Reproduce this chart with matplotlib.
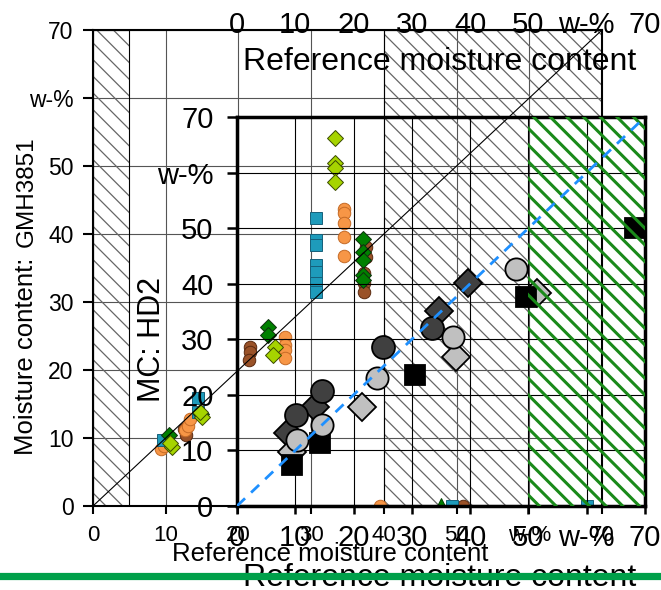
import numpy as np
import matplotlib
matplotlib.use("Agg")
import matplotlib.pyplot as plt
import matplotlib.transforms as mtransforms
from matplotlib.patches import Rectangle
from matplotlib.lines import Line2D

plt.rcParams['font.family'] = ['Liberation Sans', 'DejaVu Sans']

# ticks shared by both panels
ticks = [0, 10, 20, 30, 40, 50, 60, 70]
tick_labels = ['0', '10', '20', '30', '40', '50', 'w-%', '70']

# GMH3851 vs reference (outer panel)
orange_x = [9.3, 9.8, 12.6, 13.0, 13.3, 26.4, 26.4, 26.4, 26.4, 34.5, 34.5, 34.5, 34.5, 34.5, 39.5]
orange_y = [8.4, 8.8, 11.2, 11.8, 12.8, 24.9, 23.7, 22.9, 21.8, 43.7, 43.1, 41.6, 39.6, 36.8, 0]
brown_x = [12.5, 12.8, 21.6, 21.6, 21.5, 37.6, 37.6, 37.3, 37.3, 37.3, 50.9]
brown_y = [11.3, 10.4, 23.4, 22.6, 21.5, 38.1, 36.6, 34.3, 32.8, 31.5, 0]
teal_x = [9.6, 14.4, 14.4, 30.7, 30.7, 30.7, 30.7, 30.7, 30.7, 30.7, 49.4, 67.9]
teal_y = [9.7, 15.9, 13.8, 42.4, 39.1, 38.4, 35.4, 34.4, 32.8, 31.5, 0, 0]
green_x = [10.4, 14.9, 24.1, 24.1, 37.1, 37.1, 37.1, 37.1, 37.1]
green_y = [10.4, 13.5, 26.3, 25.1, 39.3, 37.4, 36.2, 34.0, 33.2]
lime_x = [10.9, 10.6, 15.0, 14.7, 25.0, 24.8, 33.3, 33.3, 33.3, 33.3]
lime_y = [8.7, 9.2, 13.1, 13.8, 23.4, 22.2, 54.1, 50.4, 49.7, 47.6]
tri_x = [47.9]
tri_y = [0]

# HD2 vs reference (inner panel)
sq_x = [9.4, 14.2, 30.5, 49.6, 68.3]
sq_y = [7.4, 11.3, 23.6, 37.6, 50.0]
dcirc_x = [10.1, 14.6, 25.0, 33.5]
dcirc_y = [16.4, 20.7, 28.6, 32.0]
lcirc_x = [10.3, 14.6, 24.0, 37.1, 47.9]
lcirc_y = [11.9, 14.6, 23.0, 30.4, 42.6]
ddia_x = [8.7, 13.4, 34.7, 39.6]
ddia_y = [13.1, 17.8, 35.1, 40.1]
ldia_x = [9.4, 21.4, 37.6, 51.5]
ldia_y = [9.7, 17.8, 26.8, 38.3]

W, H = 661, 590
fig = plt.figure(figsize=(W / 100, H / 100), dpi=100)


def box(l, t, r, b):
    return [l / W, 1 - b / H, (r - l) / W, (b - t) / H]


def hatch_rect(ax, x0, x1, color, lw, z, edge=False):
    p = Rectangle((x0, 0), x1 - x0, 70, fill=False, hatch='\\\\', edgecolor=color,
                  linewidth=0, zorder=z)
    if hasattr(p, 'set_hatch_linewidth'):
        p.set_hatch_linewidth(lw)
    ax.add_patch(p)
    if edge:
        ax.add_patch(Rectangle((x0, 0), x1 - x0, 70, fill=False, edgecolor='black',
                               linewidth=0.8, zorder=z))


# ---- outer panel ----
ax1 = fig.add_axes(box(93, 30, 602, 506))
ax1.set_xlim(0, 70)
ax1.set_ylim(0, 70)
ax1.set_axisbelow(True)
ax1.grid(True, color='#555555', linewidth=0.8)
ax1.set_xticks(ticks, tick_labels)
ax1.set_yticks(ticks, tick_labels)
ax1.tick_params(axis='x', length=6, width=1.5, pad=7.5, labelsize=16)
ax1.tick_params(axis='y', length=7, width=1.5, pad=7, labelsize=16.5)
for s in ax1.spines.values():
    s.set_linewidth(1.5)

hatch_rect(ax1, 0, 5, '#666666', 0.9, 1, edge=True)
hatch_rect(ax1, 40, 70, '#666666', 0.9, 1, edge=True)
ax1.plot([0, 70], [0, 70], color='black', linewidth=0.8, zorder=4)

mk = dict(linestyle='none', markeredgewidth=0.7, zorder=3)
ax1.plot(brown_x, brown_y, 'o', ms=9, color='#9a5228', markeredgecolor='#5a2a10', **mk)
ax1.plot(orange_x, orange_y, 'o', ms=9, color='#f79646', markeredgecolor='#c46a26', **mk)
ax1.plot(teal_x, teal_y, 's', ms=8.5, color='#1e9bbb', markeredgecolor='#16607a', **mk)
ax1.plot(tri_x, tri_y, '^', ms=11, color='#008000', markeredgecolor='#004000', **mk)
ax1.plot(green_x, green_y, 'D', ms=8.5, color='#008000', markeredgecolor='#103010', **mk)
ax1.plot(lime_x, lime_y, 'D', ms=8.5, color='#a6d400', markeredgecolor='#3a4a00', **mk)

# ---- inner panel ----
ax2 = fig.add_axes(box(237, 117, 645, 506))
ax2.patch.set_visible(False)
ax2.set_xlim(0, 70)
ax2.set_ylim(0, 70)
ax2.set_axisbelow(True)
ax2.grid(True, color='black', linewidth=0.8)
ax2.set_xticks(ticks, tick_labels)
ax2.set_yticks(ticks, tick_labels)
ax2.tick_params(axis='x', length=6, width=1.8, pad=7, labelsize=21)
ax2.tick_params(axis='y', length=7, width=1.8, pad=10, labelsize=21)
for s in ax2.spines.values():
    s.set_linewidth(2.5)

hatch_rect(ax2, 50, 70, '#1a8a1a', 2.2, 5)

mk2 = dict(linestyle='none', markeredgecolor='black', markeredgewidth=1.3, zorder=3)
ax2.plot(ddia_x, ddia_y, 'D', ms=14.5, color='#404040', **mk2)
ax2.plot(ldia_x, ldia_y, 'D', ms=14.5, color='#c0c0c0', **mk2)
ax2.plot(sq_x, sq_y, 's', ms=15, color='black', **mk2)
ax2.plot(dcirc_x, dcirc_y, 'o', ms=16.5, color='#404040', **mk2)
ax2.plot(lcirc_x, lcirc_y, 'o', ms=16, color='#c0c0c0', **mk2)
ax2.plot([0, 70], [0, 70], color='#1e90ff', linewidth=2, dashes=(4, 3), zorder=6)

# top labels of the inner panel sit on the outer frame
trans = mtransforms.blended_transform_factory(ax2.transData, fig.transFigure)
for v, lab in zip(ticks, tick_labels):
    fig.text(v, 1 - 33 / H, lab, transform=trans, ha='center', va='baseline', fontsize=21)

fig.text(440 / W, 1 - 70 / H, 'Reference moisture content', ha='center', va='baseline', fontsize=23)
fig.text(330 / W, 1 - 561 / H, 'Reference moisture content', ha='center', va='baseline', fontsize=18.5)
fig.text(440 / W, 1 - 586 / H, 'Reference moisture content', ha='center', va='baseline', fontsize=23)
fig.text(33 / W, 1 - 356 / H, 'Moisture content:', rotation=90, rotation_mode='anchor',
         ha='center', va='baseline', fontsize=18.5)
fig.text(33 / W, 1 - 192 / H, 'GMH3851', rotation=90, rotation_mode='anchor',
         ha='center', va='baseline', fontsize=17.5)
fig.text(160 / W, 1 - 340 / H, 'MC: HD2', rotation=90, rotation_mode='anchor',
         ha='center', va='baseline', fontsize=22)

fig.add_artist(Line2D([0, 1], [1 - 576 / H, 1 - 576 / H], color='#00a04a', linewidth=5.2, zorder=10))

fig.savefig('out.png', dpi=100)
